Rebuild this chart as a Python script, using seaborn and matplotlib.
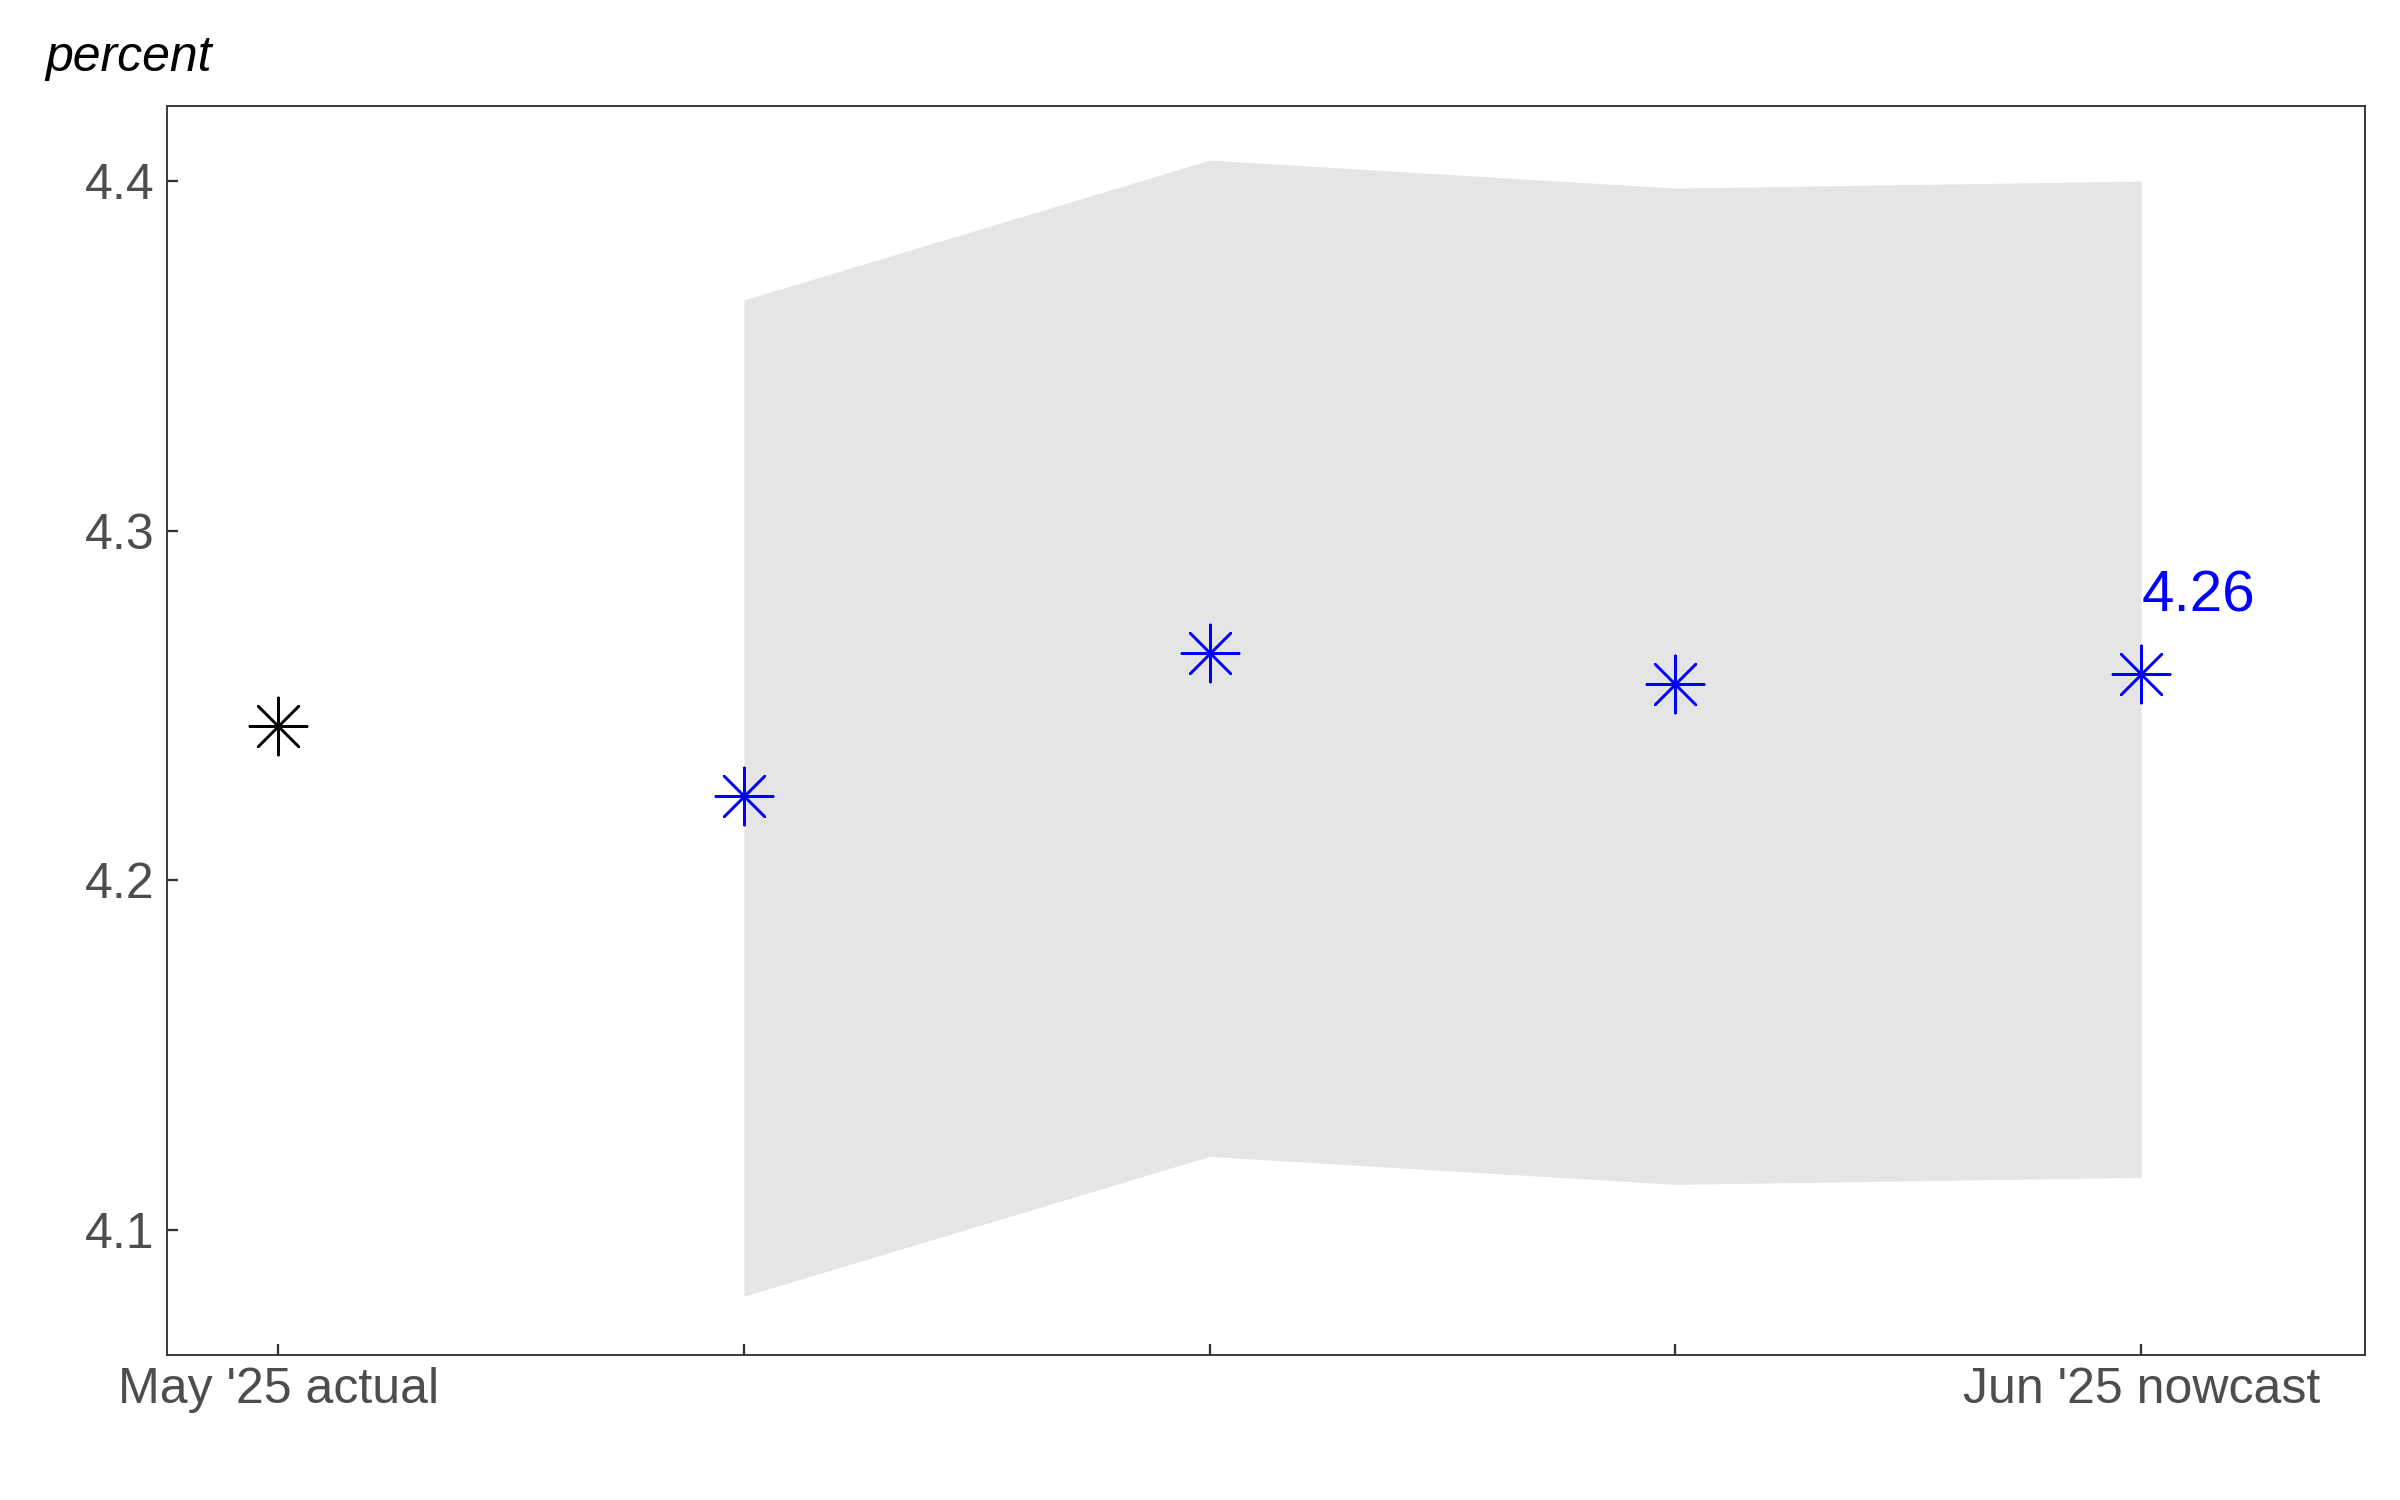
import matplotlib
matplotlib.use("Agg")
import matplotlib.pyplot as plt
import seaborn as sns
import pandas as pd

# ---- data ----
positions = [1, 2, 3, 4, 5]
tick_labels = ["May '25 actual", "", "", "", "Jun '25 nowcast"]
actual_x = [1]
actual_values = [4.244]
nowcast_x = [2, 3, 4, 5]
nowcast_values = [4.224, 4.265, 4.256, 4.259]
band_lower = [4.081, 4.121, 4.113, 4.115]
band_upper = [4.366, 4.406, 4.398, 4.400]
yticks = [4.1, 4.2, 4.3, 4.4]
label_text = "4.26"

sns.set_theme(style="ticks")
plt.rcParams["font.family"] = ["Liberation Sans", "DejaVu Sans"]

fig = plt.figure(figsize=(16, 10), dpi=150)
ax = fig.add_axes([0.0697, 0.0967, 0.9855 - 0.0697, 0.9296 - 0.0967])

ax.fill_between(nowcast_x, band_lower, band_upper, color="#E5E5E5", linewidth=0, zorder=1)

df_a = pd.DataFrame({"x": actual_x, "y": actual_values})
df_n = pd.DataFrame({"x": nowcast_x, "y": nowcast_values})
star = (8, 2, 0)
sns.scatterplot(data=df_a, x="x", y="y", marker=star, s=27.5 ** 2, color="black",
                linewidth=1.2, ax=ax, zorder=3)
sns.scatterplot(data=df_n, x="x", y="y", marker=star, s=27.5 ** 2, color="#0000FF",
                linewidth=1.2, ax=ax, zorder=3)

ax.text(nowcast_x[-1], 4.277, label_text, color="#0000FF", fontsize=28,
        ha="left", va="baseline", zorder=4)

ax.set_xlim(0.762, 5.481)
ax.set_ylim(4.0642, 4.4216)
ax.set_xticks(positions)
ax.set_xticklabels(tick_labels)
ax.set_yticks(yticks)
ax.set_yticklabels([f"{v:.1f}" for v in yticks])
ax.set_xlabel("")
ax.set_ylabel("")

ax.tick_params(axis="both", direction="in", length=5.3, width=1.1, color="#333333",
               labelsize=24, labelcolor="#4D4D4D", pad=6)
for sp in ax.spines.values():
    sp.set_visible(True)
    sp.set_color("#333333")
    sp.set_linewidth(0.9)

fig.text(45 / 2400, 1 - 71 / 1500, "percent", fontsize=24, style="italic",
         color="black", ha="left", va="baseline")

fig.savefig("out.png", dpi=150)
